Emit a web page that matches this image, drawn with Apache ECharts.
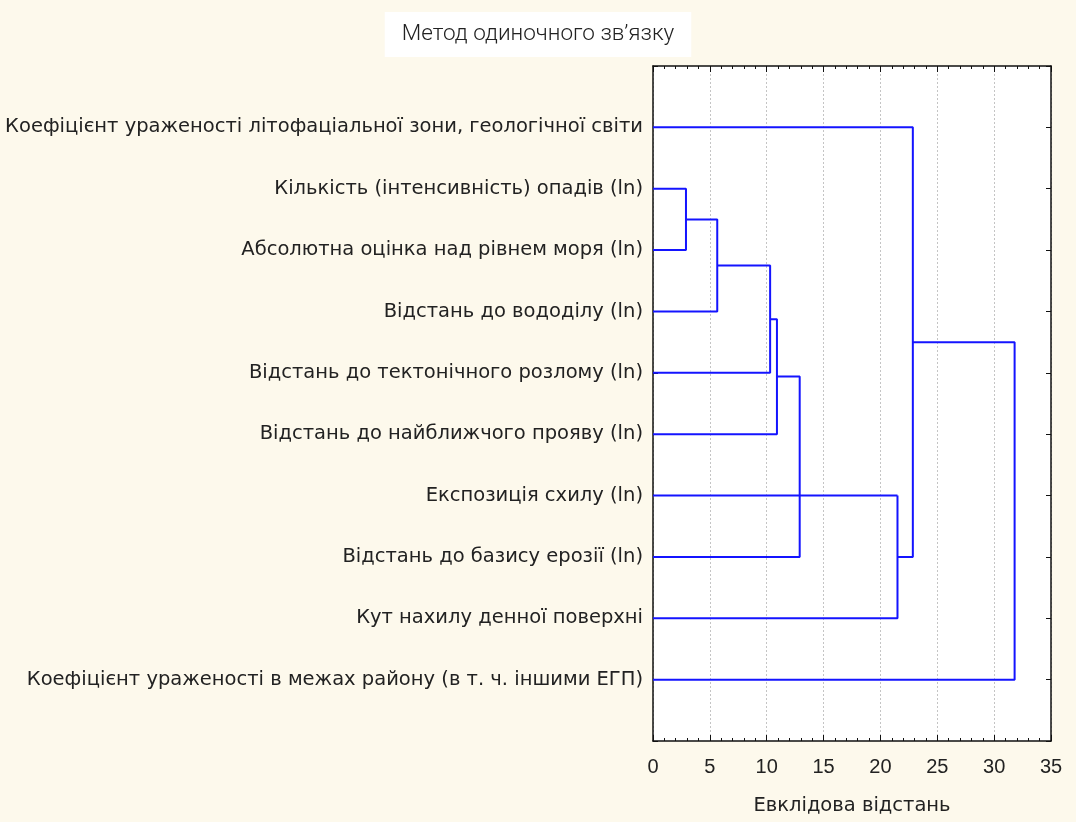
<!DOCTYPE html>
<html>
<head>
<meta charset="utf-8">
<script src="https://cdn.jsdelivr.net/npm/echarts@6/dist/echarts.min.js"></script>
<style>
html,body{margin:0;padding:0;background:#fdf9ec;}
#chart{width:1076px;height:822px;}
</style>
</head>
<body>
<div id="chart"></div>
<script>
// ---- data ----
const titleText = 'Метод одиночного зв’язку';
const xAxisName = 'Евклідова відстань';
const leafLabels = [
  'Коефіцієнт ураженості літофаціальної зони, геологічної світи',
  'Кількість (інтенсивність) опадів (ln)',
  'Абсолютна оцінка над рівнем моря (ln)',
  'Відстань до вододілу (ln)',
  'Відстань до тектонічного розлому (ln)',
  'Відстань до найближчого прояву (ln)',
  'Експозиція схилу (ln)',
  'Відстань до базису ерозії (ln)',
  'Кут нахилу денної поверхні',
  'Коефіцієнт ураженості в межах району (в т. ч. іншими ЕГП)'
];
// leaves are nodes 0..9 (row position i+1, height 0)
// merges: [nodeA, nodeB, linkage distance, drawn row position of new node]
const mergeA = [1, 10, 11, 12, 13, 6, 15, 0, 17];
const mergeB = [2, 3, 4, 5, 7, 14, 8, 16, 9];
const mergeHeight = [2.9, 5.65, 10.3, 10.9, 12.9, 21.5, 21.5, 22.85, 31.8];
const mergePos = [2.5, 3.25, 4.125, 5.06, 7, 7, 8, 4.5, 6];
const xTicks = [0, 5, 10, 15, 20, 25, 30, 35];

// ---- build node table ----
const nodeH = [], nodeP = [];
leafLabels.forEach((l, i) => { nodeH.push(0); nodeP.push(i + 1); });
mergeA.forEach((a, k) => { nodeH.push(mergeHeight[k]); nodeP.push(mergePos[k]); });

const series = mergeA.map((a, k) => {
  const b = mergeB[k], h = mergeHeight[k];
  return {
    type: 'line', xAxisIndex: 0, yAxisIndex: 0,
    showSymbol: false, symbol: 'none', animation: false, silent: true,
    lineStyle: { color: '#1414ff', width: 2 },
    data: [[nodeH[a], nodeP[a]], [h, nodeP[a]], [h, nodeP[b]], [nodeH[b], nodeP[b]]]
  };
});

const lblFont = 'DejaVu Sans';
const numFont = 'Liberation Sans';
const chart = echarts.init(document.getElementById('chart'));
const xCommon = {
  type: 'value', min: 0, max: 35, interval: 5,
  axisLine: { show: true, onZero: false, lineStyle: { color: '#111', width: 1.5 } },
  axisTick: { show: true, inside: true, length: 6, lineStyle: { color: '#111' } },
  minorTick: { show: true, splitNumber: 5, length: 3, lineStyle: { color: '#111' } },
};
const yCommon = {
  type: 'value', min: 0, max: 11, interval: 1, inverse: true,
  axisLine: { show: true, onZero: false, lineStyle: { color: '#111', width: 1.5 } },
  axisTick: { show: true, inside: true, length: 5, lineStyle: { color: '#111' } },
  splitLine: { show: false }
};
chart.setOption({
  backgroundColor: '#fdf9ec',
  animation: false,
  title: {
    text: titleText, left: 'center', top: 12,
    backgroundColor: '#ffffff', padding: [11, 17, 11, 17],
    textStyle: { fontFamily: 'Roboto', fontWeight: 300, fontSize: 22.5, color: '#222' }
  },
  grid: { left: 653, right: 25, top: 66, bottom: 81, show: true, backgroundColor: '#ffffff', borderWidth: 0 },
  xAxis: [
    Object.assign({}, xCommon, {
      position: 'bottom',
      name: xAxisName, nameLocation: 'middle', nameGap: 55,
      nameTextStyle: { fontFamily: lblFont, fontSize: 19.5, color: '#222' },
      axisLabel: { margin: 16, fontFamily: numFont, fontSize: 20, color: '#222',
        formatter: v => xTicks.indexOf(v) >= 0 ? String(v) : '' },
      splitLine: { show: true, lineStyle: { color: '#c4c4c4', type: [2, 2], width: 1 } }
    }),
    Object.assign({}, xCommon, {
      position: 'top', axisLabel: { show: false }, splitLine: { show: false }
    })
  ],
  yAxis: [
    Object.assign({}, yCommon, {
      position: 'left',
      axisLabel: { margin: 10, fontFamily: lblFont, fontSize: 19.5, color: '#222',
        formatter: v => (v >= 1 && v <= leafLabels.length) ? leafLabels[v - 1] : '' }
    }),
    Object.assign({}, yCommon, { position: 'right', axisLabel: { show: false } })
  ],
  series: series
});
</script>
</body>
</html>
